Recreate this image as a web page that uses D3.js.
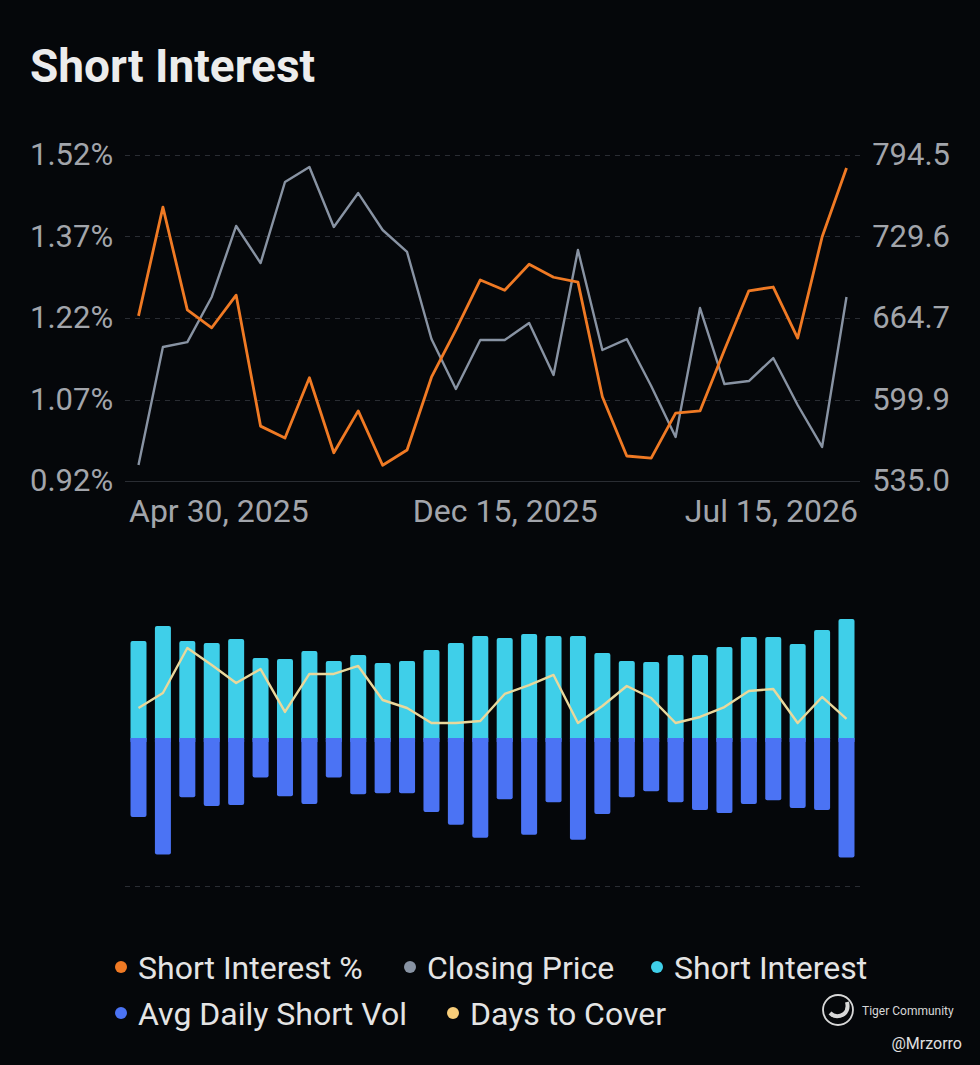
<!DOCTYPE html>
<html>
<head>
<meta charset="utf-8">
<script src="https://cdn.jsdelivr.net/npm/d3@7"></script>
<style>
  html, body { margin: 0; padding: 0; background: #05070a; }
  svg { display: block; }
  text { font-family: Roboto, "Noto Sans", sans-serif; }
</style>
</head>
<body>
<div id="chart"></div>
<script>
const dates = [
  "Apr 30, 2025", "May 15, 2025", "May 30, 2025", "Jun 13, 2025", "Jun 30, 2025",
  "Jul 15, 2025", "Jul 31, 2025", "Aug 15, 2025", "Aug 29, 2025", "Sep 15, 2025",
  "Sep 30, 2025", "Oct 15, 2025", "Oct 31, 2025", "Nov 14, 2025", "Nov 28, 2025",
  "Dec 15, 2025", "Dec 31, 2025", "Jan 15, 2026", "Jan 30, 2026", "Feb 13, 2026",
  "Feb 27, 2026", "Mar 13, 2026", "Mar 31, 2026", "Apr 15, 2026", "Apr 30, 2026",
  "May 15, 2026", "May 29, 2026", "Jun 15, 2026", "Jun 30, 2026", "Jul 15, 2026"
];

// short interest as % of float
const shortPct = [
  1.224, 1.424, 1.235, 1.202, 1.262, 1.021, 0.999, 1.110, 0.972, 1.049,
  0.949, 0.977, 1.111, 1.198, 1.290, 1.271, 1.319, 1.295, 1.286, 1.075,
  0.966, 0.962, 1.045, 1.049, 1.161, 1.270, 1.277, 1.183, 1.369, 1.496
];

const closePrice = [
  547.7, 641.7, 645.6, 681.5, 738.0, 708.5, 773.0, 785.0, 737.2, 764.2,
  734.8, 717.3, 648.0, 608.2, 647.2, 647.2, 660.8, 619.4, 718.9, 639.3,
  648.0, 610.6, 570.0, 672.7, 612.2, 614.6, 632.9, 595.5, 562.1, 681.5
];

// shares short, millions
const shortInterest = [
  9.83, 11.35, 9.83, 9.63, 10.03, 8.11, 8.01, 8.82, 7.80, 8.41,
  7.60, 7.80, 8.92, 9.63, 10.34, 10.14, 10.54, 10.34, 10.34, 8.61,
  7.80, 7.70, 8.41, 8.41, 9.22, 10.24, 10.24, 9.53, 10.95, 12.06
];

// avg daily short volume, millions
const avgShortVol = [
  0.80, 1.18, 0.60, 0.69, 0.68, 0.40, 0.59, 0.67, 0.40, 0.57,
  0.56, 0.56, 0.75, 0.88, 1.01, 0.62, 0.98, 0.65, 1.03, 0.77,
  0.60, 0.54, 0.65, 0.73, 0.76, 0.67, 0.63, 0.71, 0.73, 1.21
];

const daysToCover = [
  3.04, 4.56, 9.12, 7.40, 5.57, 6.99, 2.64, 6.49, 6.49, 7.30,
  3.85, 3.04, 1.52, 1.52, 1.72, 4.46, 5.37, 6.39, 1.52, 3.24,
  5.27, 4.05, 1.52, 2.13, 3.14, 4.76, 4.97, 1.52, 4.16, 1.93
];

const pctTicks = [0.92, 1.07, 1.22, 1.37, 1.52];
const priceTicks = [535.0, 599.9, 664.7, 729.6, 794.5];
const dateTicks = ["Apr 30, 2025", "Dec 15, 2025", "Jul 15, 2026"];

const legendRows = [
  [["Short Interest %", "#f07a24"], ["Closing Price", "#8893a3"], ["Short Interest", "#3fcfe9"]],
  [["Avg Daily Short Vol", "#4b73f4"], ["Days to Cover", "#f8cd7a"]]
];

const width = 980, height = 1065;
const gridColor = "#2a2d33";
const labelColor = "#a2a5ab";

const svg = d3.select("#chart").append("svg")
  .attr("width", width)
  .attr("height", height);

svg.append("rect")
  .attr("width", width)
  .attr("height", height)
  .attr("fill", "#05070a");

svg.append("text")
  .attr("x", 30)
  .attr("y", 82)
  .attr("fill", "#ececec")
  .style("font-size", "46px")
  .style("font-weight", "bold")
  .text("Short Interest");

const x = d3.scalePoint()
  .domain(dates)
  .range([138.5, 846.5]);

const plotLeft = 125, plotRight = 860;

// ---- top chart ----
const yPct = d3.scaleLinear().domain([0.92, 1.52]).range([481, 155]);
const yPrice = d3.scaleLinear().domain([535.0, 794.5]).range([481, 155]);

svg.selectAll(".grid")
  .data(pctTicks)
  .enter()
  .append("line")
  .attr("class", "grid")
  .attr("x1", plotLeft)
  .attr("x2", plotRight)
  .attr("y1", d => Math.round(yPct(d)) + 0.5)
  .attr("y2", d => Math.round(yPct(d)) + 0.5)
  .attr("stroke", gridColor)
  .attr("stroke-width", 1)
  .attr("stroke-dasharray", d => d === pctTicks[0] ? null : "5,5");

const leftAxis = svg.append("g")
  .attr("transform", "translate(30,0)")
  .call(d3.axisRight(yPct).tickValues(pctTicks).tickSize(0).tickPadding(0)
    .tickFormat(d => d.toFixed(2) + "%"));

const rightAxis = svg.append("g")
  .attr("transform", "translate(950,0)")
  .call(d3.axisLeft(yPrice).tickValues(priceTicks).tickSize(0).tickPadding(0)
    .tickFormat(d => d.toFixed(1)));

const bottomAxis = svg.append("g")
  .attr("transform", "translate(0,499)")
  .call(d3.axisBottom(x).tickValues(dateTicks).tickSize(0).tickPadding(0));

bottomAxis.selectAll(".tick text")
  .attr("dy", "0.71em")
  .attr("text-anchor", (d, i) => i === 0 ? "start" : (i === dateTicks.length - 1 ? "end" : "middle"))
  .attr("x", (d, i) => i === 0 ? -10 : (i === dateTicks.length - 1 ? 11 : 0));

[leftAxis, rightAxis, bottomAxis].forEach(g => {
  g.select(".domain").remove();
  g.selectAll(".tick text")
    .attr("fill", labelColor)
    .style("font-size", g === bottomAxis ? "32px" : "31px")
    .style("font-family", "Roboto, sans-serif");
});

svg.append("path")
  .datum(closePrice)
  .attr("fill", "none")
  .attr("stroke", "#8893a3")
  .attr("stroke-width", 2.4)
  .attr("stroke-linejoin", "round")
  .attr("d", d3.line().x((d, i) => x(dates[i])).y(d => yPrice(d)));

svg.append("path")
  .datum(shortPct)
  .attr("fill", "none")
  .attr("stroke", "#f07a24")
  .attr("stroke-width", 2.8)
  .attr("stroke-linejoin", "round")
  .attr("d", d3.line().x((d, i) => x(dates[i])).y(d => yPct(d)));

// ---- bottom chart ----
const zeroY = 738;
const ySI = d3.scaleLinear().domain([0, 15]).range([zeroY, 590]);
const yVol = d3.scaleLinear().domain([0, 1.5]).range([zeroY, 886]);
const yDays = d3.scaleLinear().domain([0, 15]).range([zeroY, 590]);
const barW = 16;

svg.append("line")
  .attr("x1", plotLeft)
  .attr("x2", plotRight)
  .attr("y1", 886.5)
  .attr("y2", 886.5)
  .attr("stroke", gridColor)
  .attr("stroke-dasharray", "5,5");

svg.selectAll(".si-bar")
  .data(shortInterest)
  .enter()
  .append("rect")
  .attr("class", "si-bar")
  .attr("x", (d, i) => x(dates[i]) - barW / 2)
  .attr("y", d => ySI(d))
  .attr("width", barW)
  .attr("height", d => zeroY - ySI(d) + 3)
  .attr("rx", 2)
  .attr("fill", "#3fcfe9");

svg.selectAll(".vol-bar")
  .data(avgShortVol)
  .enter()
  .append("rect")
  .attr("class", "vol-bar")
  .attr("x", (d, i) => x(dates[i]) - barW / 2)
  .attr("y", zeroY)
  .attr("width", barW)
  .attr("height", d => yVol(d) - zeroY)
  .attr("rx", 2)
  .attr("fill", "#4b73f4");

// square off the joins at the zero line
svg.selectAll(".vol-top")
  .data(avgShortVol)
  .enter()
  .append("rect")
  .attr("class", "vol-top")
  .attr("x", (d, i) => x(dates[i]) - barW / 2)
  .attr("y", zeroY)
  .attr("width", barW)
  .attr("height", 4)
  .attr("fill", "#4b73f4");

svg.append("path")
  .datum(daysToCover)
  .attr("fill", "none")
  .attr("stroke", "#e9d89c")
  .attr("stroke-width", 2.4)
  .attr("stroke-linejoin", "round")
  .attr("d", d3.line().x((d, i) => x(dates[i])).y(d => yDays(d)));

// ---- legend ----
const legendX = [[121, 410, 657], [121, 453]];
const legendY = [967, 1013];

legendRows.forEach((row, r) => {
  const g = svg.append("g");
  row.forEach(([name, color], k) => {
    g.append("circle")
      .attr("cx", legendX[r][k])
      .attr("cy", legendY[r])
      .attr("r", 6)
      .attr("fill", color);
    g.append("text")
      .attr("x", legendX[r][k] + 17)
      .attr("y", legendY[r])
      .attr("dy", "0.36em")
      .attr("fill", "#e4e4e4")
      .style("font-size", "32px")
      .text(name);
  });
});

// ---- watermark ----
const wm = svg.append("g").attr("transform", "translate(838,1010)");
wm.append("circle")
  .attr("r", 15)
  .attr("fill", "none")
  .attr("stroke", "#d8d8d8")
  .attr("stroke-width", 1.8);
wm.append("path")
  .attr("d", "M-8,3 Q-2,9 6,4 Q11,0 9,-8")
  .attr("fill", "none")
  .attr("stroke", "#d8d8d8")
  .attr("stroke-width", 4);
wm.append("text")
  .attr("x", 24)
  .attr("y", 5)
  .attr("fill", "#d8d8d8")
  .style("font-size", "12px")
  .text("Tiger Community");
svg.append("text")
  .attr("x", 962)
  .attr("y", 1049)
  .attr("text-anchor", "end")
  .attr("fill", "#e0e0e0")
  .style("font-size", "16px")
  .text("@Mrzorro");
</script>
</body>
</html>
